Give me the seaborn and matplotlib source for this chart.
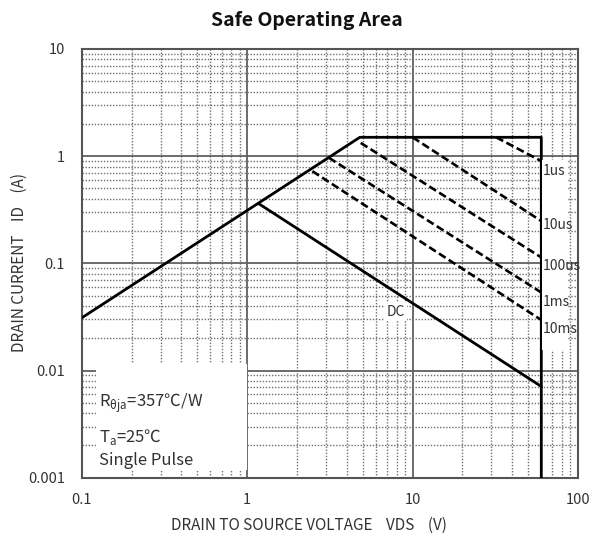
import numpy as np
import pandas as pd
import seaborn as sns
import matplotlib.pyplot as plt
from matplotlib.patches import Rectangle
from matplotlib.ticker import FixedLocator, LogLocator, NullFormatter

# SOA boundary (VDS, ID)
limit_vds = [0.1, 4.8, 60, 60]
limit_id = [0.031, 1.5, 1.5, 0.001]

# pulse lines: start and end points
pulse_names = ["1us", "10us", "100us", "1ms", "10ms"]
pulse_vds = [[32, 60], [10, 60], [4.86, 60], [3.12, 60], [2.48, 60]]
pulse_id = [[1.5, 0.9], [1.5, 0.248], [1.33, 0.1135], [0.966, 0.0535], [0.724, 0.0296]]
pulse_label_y = [0.72, 0.23, 0.094, 0.0436, 0.0244]

# DC line
dc_vds = [1.17, 60]
dc_id = [0.362, 0.0071]

x_ticks = [0.1, 1, 10, 100]
x_ticklabels = ["0.1", "1", "10", "100"]
y_ticks = [0.001, 0.01, 0.1, 1, 10]
y_ticklabels = ["0.001", "0.01", "0.1", "1", "10"]

sns.set_style("white")
plt.rcParams['font.family'] = ['Noto Sans CJK SC', 'DejaVu Sans']
plt.rcParams['mathtext.fontset'] = 'custom'
plt.rcParams['mathtext.rm'] = 'Noto Sans CJK SC'

fig = plt.figure(figsize=(5.93, 5.45), dpi=100)
ax = fig.add_axes([81.7 / 593, 1 - 477.7 / 545, (578 - 81.7) / 593, (477.7 - 49) / 545])

ax.set_xscale("log")
ax.set_yscale("log")
ax.set_xlim(0.1, 100)
ax.set_ylim(0.001, 10)

# grid
ax.xaxis.set_major_locator(FixedLocator(x_ticks))
ax.yaxis.set_major_locator(FixedLocator(y_ticks))
ax.xaxis.set_minor_locator(LogLocator(base=10, subs=np.arange(2, 10)))
ax.yaxis.set_minor_locator(LogLocator(base=10, subs=np.arange(2, 10)))
ax.xaxis.set_minor_formatter(NullFormatter())
ax.yaxis.set_minor_formatter(NullFormatter())
ax.set_xticklabels(x_ticklabels)
ax.set_yticklabels(y_ticklabels)
ax.grid(True, which="major", color="#606060", linewidth=1.3, linestyle="-")
ax.grid(True, which="minor", color="#707070", linewidth=1.0, linestyle=(0, (1, 1.2)))
ax.set_axisbelow(True)
ax.tick_params(which="both", length=0)
ax.tick_params(axis="x", pad=11, labelsize=10.5, labelcolor="#333333")
ax.tick_params(axis="y", pad=12, labelsize=10.5, labelcolor="#333333")
for s in ax.spines.values():
    s.set_color("#555555")
    s.set_linewidth(1.5)

# boundary
sns.lineplot(x=limit_vds, y=limit_id, ax=ax, color="black", linewidth=2.0,
             sort=False, estimator=None, zorder=3)

# pulse lines
for name, vx, iy in zip(pulse_names, pulse_vds, pulse_id):
    sns.lineplot(x=vx, y=iy, ax=ax, color="black", linewidth=1.9,
                 sort=False, estimator=None, zorder=3, dashes=False)
    ax.lines[-1].set_dashes((3.0, 1.4))

# DC line
sns.lineplot(x=dc_vds, y=dc_id, ax=ax, color="black", linewidth=2.0,
             sort=False, estimator=None, zorder=3)

# white box behind pulse labels
ax.add_patch(Rectangle((60.5, 0.0157), 86 - 60.5, 0.93 - 0.0157,
                       facecolor="white", edgecolor="none", zorder=4))
for name, ly in zip(pulse_names, pulse_label_y):
    ax.text(61, ly, name, fontsize=10, color="#333333", va="center", ha="left", zorder=5)

ax.text(7.9, 0.035, "DC", fontsize=10, color="#333333", va="center", ha="center", zorder=5,
        bbox=dict(facecolor="white", edgecolor="none", pad=1.5))

# condition box
ax.add_patch(Rectangle((0.122, 0.00118), 1.0 - 0.122, 0.0115 - 0.00118,
                       facecolor="white", edgecolor="none", zorder=2))
ax.text(0.128, 0.0049, "R$_{\\mathrm{\\theta ja}}$=357℃/W", fontsize=12, color="#333333",
        va="center", ha="left", zorder=5)
ax.text(0.128, 0.0024, "T$_{\\mathrm{a}}$=25℃", fontsize=12, color="#333333",
        va="center", ha="left", zorder=5)
ax.text(0.128, 0.00145, "Single Pulse", fontsize=12, color="#333333",
        va="center", ha="left", zorder=5)

fig.text(307 / 593, 1 - 20 / 545, "Safe Operating Area", fontsize=14, fontweight="bold",
         ha="center", va="center", color="#111111")
fig.text(309 / 593, 1 - 525 / 545, "DRAIN TO SOURCE VOLTAGE    VDS    (V)", fontsize=11,
         ha="center", va="center", color="#333333")
fig.text(19 / 593, 1 - 262 / 545, "DRAIN CURRENT    ID    (A)", fontsize=11,
         ha="center", va="center", rotation=90, color="#333333")

fig.savefig("out.png", dpi=100)
